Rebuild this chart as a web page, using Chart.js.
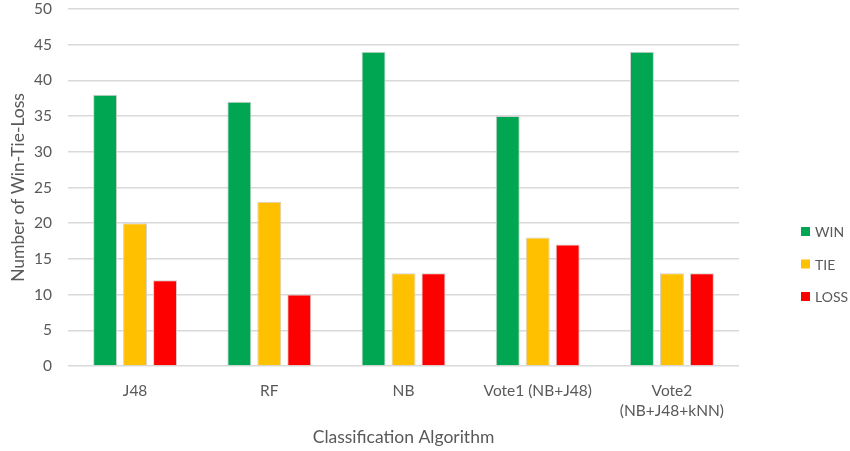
<!DOCTYPE html>
<html>
<head>
<meta charset="utf-8">
<script src="https://cdn.jsdelivr.net/npm/chart.js@4.4.1/dist/chart.umd.min.js"></script>
<style>
  html, body { margin: 0; padding: 0; background: #ffffff; }
  #wrap { width: 850px; height: 451px; }
</style>
</head>
<body>
<div id="wrap"><canvas id="chart" width="850" height="451"></canvas></div>
<script>
// Classification algorithms compared
const algorithms = ['J48', 'RF', 'NB', 'Vote1 (NB+J48)', ['Vote2', '(NB+J48+kNN)']];

// Win / tie / loss counts per algorithm
const winCounts  = [38, 37, 44, 35, 44];
const tieCounts  = [20, 23, 13, 18, 13];
const lossCounts = [12, 10, 13, 17, 13];

const seriesNames = ['WIN', 'TIE', 'LOSS'];
const seriesColors = ['#00a651', '#ffc000', '#ff0000'];

const FONT = 'Lato, "Open Sans", sans-serif';
const TEXT = '#595959';

// Legend stacked vertically in the right margin
const sideLegend = {
  id: 'sideLegend',
  afterDraw(chart) {
    const ctx = chart.ctx;
    const x = chart.chartArea.right + 62;
    const y0 = 232;
    const step = 32.5;
    ctx.save();
    ctx.font = '14px ' + FONT;
    ctx.textBaseline = 'middle';
    ctx.textAlign = 'left';
    chart.data.datasets.forEach((ds, i) => {
      const y = y0 + i * step;
      ctx.fillStyle = ds.backgroundColor;
      ctx.fillRect(x, y - 5, 9, 9);
      ctx.fillStyle = TEXT;
      ctx.fillText(ds.label, x + 14, y + 0.5);
    });
    ctx.restore();
  }
};

const values = [winCounts, tieCounts, lossCounts];

new Chart(document.getElementById('chart'), {
  type: 'bar',
  data: {
    labels: algorithms,
    datasets: seriesNames.map((name, i) => ({
      label: name,
      data: values[i],
      backgroundColor: seriesColors[i],
      borderColor: '#d0d0d0',
      borderWidth: 1,
      categoryPercentage: 0.67,
      barPercentage: 0.8
    }))
  },
  options: {
    responsive: false,
    animation: false,
    layout: { padding: { top: 9, right: 111, left: 2, bottom: 3 } },
    plugins: {
      legend: { display: false },
      tooltip: { enabled: false }
    },
    scales: {
      x: {
        grid: { display: false, drawTicks: false },
        border: { display: false },
        ticks: { color: TEXT, font: { family: FONT, size: 15.5, lineHeight: 1.3 }, padding: 15, maxRotation: 0, autoSkip: false },
        title: { display: true, text: 'Classification Algorithm', color: TEXT, font: { family: FONT, size: 17.5 }, padding: { top: 0, bottom: 0 } },
        afterFit(scale) {
          scale.height = 82;
        }
      },
      y: {
        min: 0,
        max: 50,
        ticks: { stepSize: 5, color: TEXT, font: { family: FONT, size: 15.5 }, padding: 16 },
        grid: { color: '#d9d9d9', lineWidth: 1.5, drawTicks: false },
        border: { display: false },
        title: { display: true, text: 'Number of Win-Tie-Loss', color: TEXT, font: { family: FONT, size: 17.5 }, padding: { top: 6, bottom: 0 } },
        afterFit(scale) {
          scale.width = 66;
          scale.paddingTop = 0;
          scale.paddingBottom = 0;
        }
      }
    }
  },
  plugins: [sideLegend]
});
</script>
</body>
</html>
